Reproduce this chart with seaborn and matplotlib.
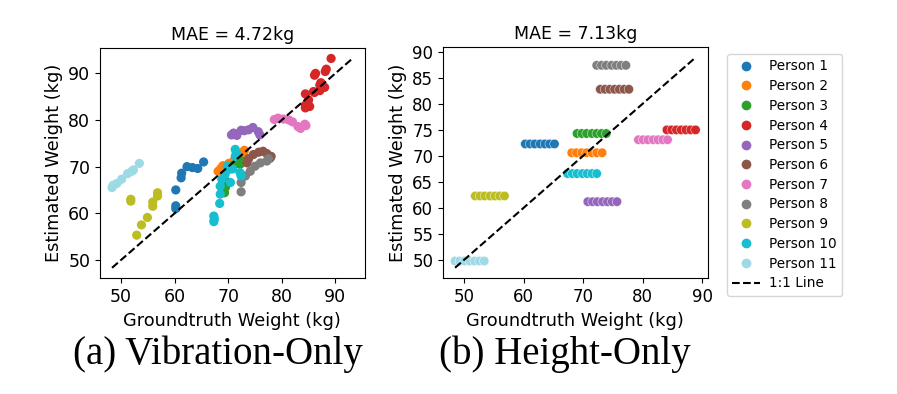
import matplotlib
matplotlib.use("Agg")
import matplotlib.pyplot as plt
from matplotlib.lines import Line2D
from matplotlib.ticker import MultipleLocator
import numpy as np
import pandas as pd
import seaborn as sns

# Datos
personas = [f"Person {i}" for i in range(1, 12)]
colores = ["#1f77b4", "#ff7f0e", "#2ca02c", "#d62728", "#9467bd", "#8c564b",
           "#e377c2", "#7f7f7f", "#bcbd22", "#17becf", "#9edae5"]

# (a) solo vibracion: peso real y estimado por persona
vib_real = [
    [60.2, 60.2, 60.2, 61.2, 61.3, 62.3, 63.3, 64.3, 65.4],
    [68.1, 68.6, 69.0, 70.1, 71.0, 71.6, 72.4, 72.9, 73.0],
    [69.3, 69.5, 69.7, 71.0, 71.6, 72.2, 72.5],
    [84.4, 84.4, 85.0, 84.4, 85.2, 85.9, 86.1, 87.1, 87.1, 86.1, 86.3, 88.1, 88.3, 89.2, 87.3, 88.0],
    [70.6, 71.0, 71.6, 72.4, 73.0, 73.8, 74.6, 75.6, 75.9],
    [73.5, 73.8, 74.7, 75.7, 76.5, 77.2, 78.0, 77.8],
    [78.6, 79.3, 80.3, 81.3, 82.0, 83.0, 83.5, 84.3, 84.5],
    [72.4, 72.4, 73.2, 74.1, 75.0, 76.0, 77.2, 77.5],
    [51.8, 51.8, 52.9, 53.8, 54.9, 55.9, 55.9, 56.8, 56.8],
    [67.3, 67.3, 67.4, 68.4, 68.5, 68.5, 68.8, 69.4, 70.4, 70.1, 71.3, 71.3, 72.2, 72.4, 69.8, 70.8, 71.5],
    [48.3, 48.5, 49.2, 50.1, 51.2, 52.0, 52.3, 53.4],
]
vib_estimado = [
    [61.0, 61.6, 65.0, 67.6, 68.6, 70.0, 69.8, 69.6, 71.0],
    [69.0, 69.6, 70.2, 70.7, 71.2, 71.5, 72.5, 73.0, 73.5],
    [64.4, 65.6, 66.8, 70.3, 70.9, 70.5, 71.2],
    [82.6, 83.2, 84.3, 85.6, 82.9, 86.1, 85.9, 87.5, 86.3, 89.6, 90.0, 90.4, 90.9, 93.2, 88.0, 87.0],
    [76.8, 77.2, 76.7, 77.8, 77.7, 77.9, 78.4, 77.5, 76.8],
    [70.8, 71.7, 72.6, 73.1, 73.3, 72.8, 72.2, 71.8],
    [80.1, 80.4, 80.2, 80.0, 79.6, 78.6, 78.2, 79.1, 78.8],
    [64.6, 66.6, 68.0, 69.0, 70.1, 70.8, 71.2, 71.7],
    [63.0, 62.6, 55.3, 57.5, 59.1, 61.5, 62.4, 63.7, 64.4],
    [59.4, 58.2, 58.8, 62.1, 64.1, 65.8, 67.3, 68.3, 66.6, 69.4, 73.7, 72.2, 68.7, 68.0, 70.1, 69.5, 73.0],
    [65.5, 66.0, 66.4, 67.3, 68.5, 69.0, 69.3, 70.7],
]

# (b) solo altura: un valor estimado por persona
alt_real = [
    [60.3, 61.1, 61.9, 62.8, 63.6, 64.4, 65.2],
    [68.1, 68.9, 69.8, 70.6, 71.5, 72.3, 73.2],
    [69.0, 69.8, 70.6, 71.5, 72.3, 73.1, 73.9],
    [84.1, 84.9, 85.7, 86.5, 87.3, 88.1, 88.9],
    [70.8, 71.6, 72.4, 73.3, 74.1, 74.9, 75.7],
    [72.9, 73.7, 74.5, 75.3, 76.1, 76.9, 77.7],
    [79.3, 80.1, 80.9, 81.8, 82.6, 83.4, 84.2],
    [72.3, 73.1, 73.9, 74.8, 75.6, 76.4, 77.2],
    [51.9, 52.7, 53.5, 54.4, 55.2, 56.0, 56.8],
    [67.4, 68.2, 69.0, 69.9, 70.7, 71.5, 72.3],
    [48.5, 49.3, 50.1, 51.0, 51.8, 52.6, 53.4],
]
alt_estimado = [72.3, 70.6, 74.3, 75.0, 61.2, 82.8, 73.1, 87.4, 62.3, 66.6, 49.8]


def armar_tabla(reales, estimados):
    filas = []
    for p, xs, ys in zip(personas, reales, estimados):
        if np.isscalar(ys):
            ys = [ys] * len(xs)
        for x, y in zip(xs, ys):
            filas.append((p, x, y))
    return pd.DataFrame(filas, columns=["persona", "real", "estimado"])


df_vib = armar_tabla(vib_real, vib_estimado)
df_alt = armar_tabla(alt_real, alt_estimado)
paleta = dict(zip(personas, colores))

fig = plt.figure(figsize=(8.97, 3.94), dpi=100)
ax1 = fig.add_axes([0.1115, 0.2937, 0.2949, 0.5845])
ax2 = fig.add_axes([0.4939, 0.2937, 0.2949, 0.587])

sns.scatterplot(data=df_vib, x="real", y="estimado", hue="persona", palette=paleta,
                s=44, linewidth=0, legend=False, ax=ax1)
sns.scatterplot(data=df_alt, x="real", y="estimado", hue="persona", palette=paleta,
                s=46, edgecolor="white", linewidth=0.3, legend=False, ax=ax2)

for ax, df, mae, paso in [(ax1, df_vib, "4.72", 10), (ax2, df_alt, "7.13", 5)]:
    lo = min(df["real"].min(), df["estimado"].min())
    hi = max(df["real"].max(), df["estimado"].max())
    ax.plot([lo, hi], [lo, hi], "k--", lw=1.5)
    ax.set_title(f"MAE = {mae}kg", fontsize=12.5)
    ax.set_xlabel("Groundtruth Weight (kg)", fontsize=12.8)
    ax.set_ylabel("Estimated Weight (kg)", fontsize=12.8)
    ax.xaxis.set_major_locator(MultipleLocator(10))
    ax.yaxis.set_major_locator(MultipleLocator(paso))
    ax.tick_params(labelsize=12.5 if ax is ax1 else 12)

manijas = [Line2D([], [], marker="o", ls="", color=c, markersize=6) for c in colores]
manijas.append(Line2D([], [], color="k", ls="--", lw=1.5))
fig.legend(manijas, personas + ["1:1 Line"], loc="upper left",
           bbox_to_anchor=(0.8105, 0.863), borderaxespad=0, fontsize=9.8,
           labelspacing=0.42, handletextpad=0.7)

fig.text(0.243, 0.1, "(a) Vibration-Only", fontsize=28, family="Liberation Serif",
         ha="center", va="center")
fig.text(0.63, 0.1, "(b) Height-Only", fontsize=28, family="Liberation Serif",
         ha="center", va="center")

fig.savefig("out.png", dpi=100)
